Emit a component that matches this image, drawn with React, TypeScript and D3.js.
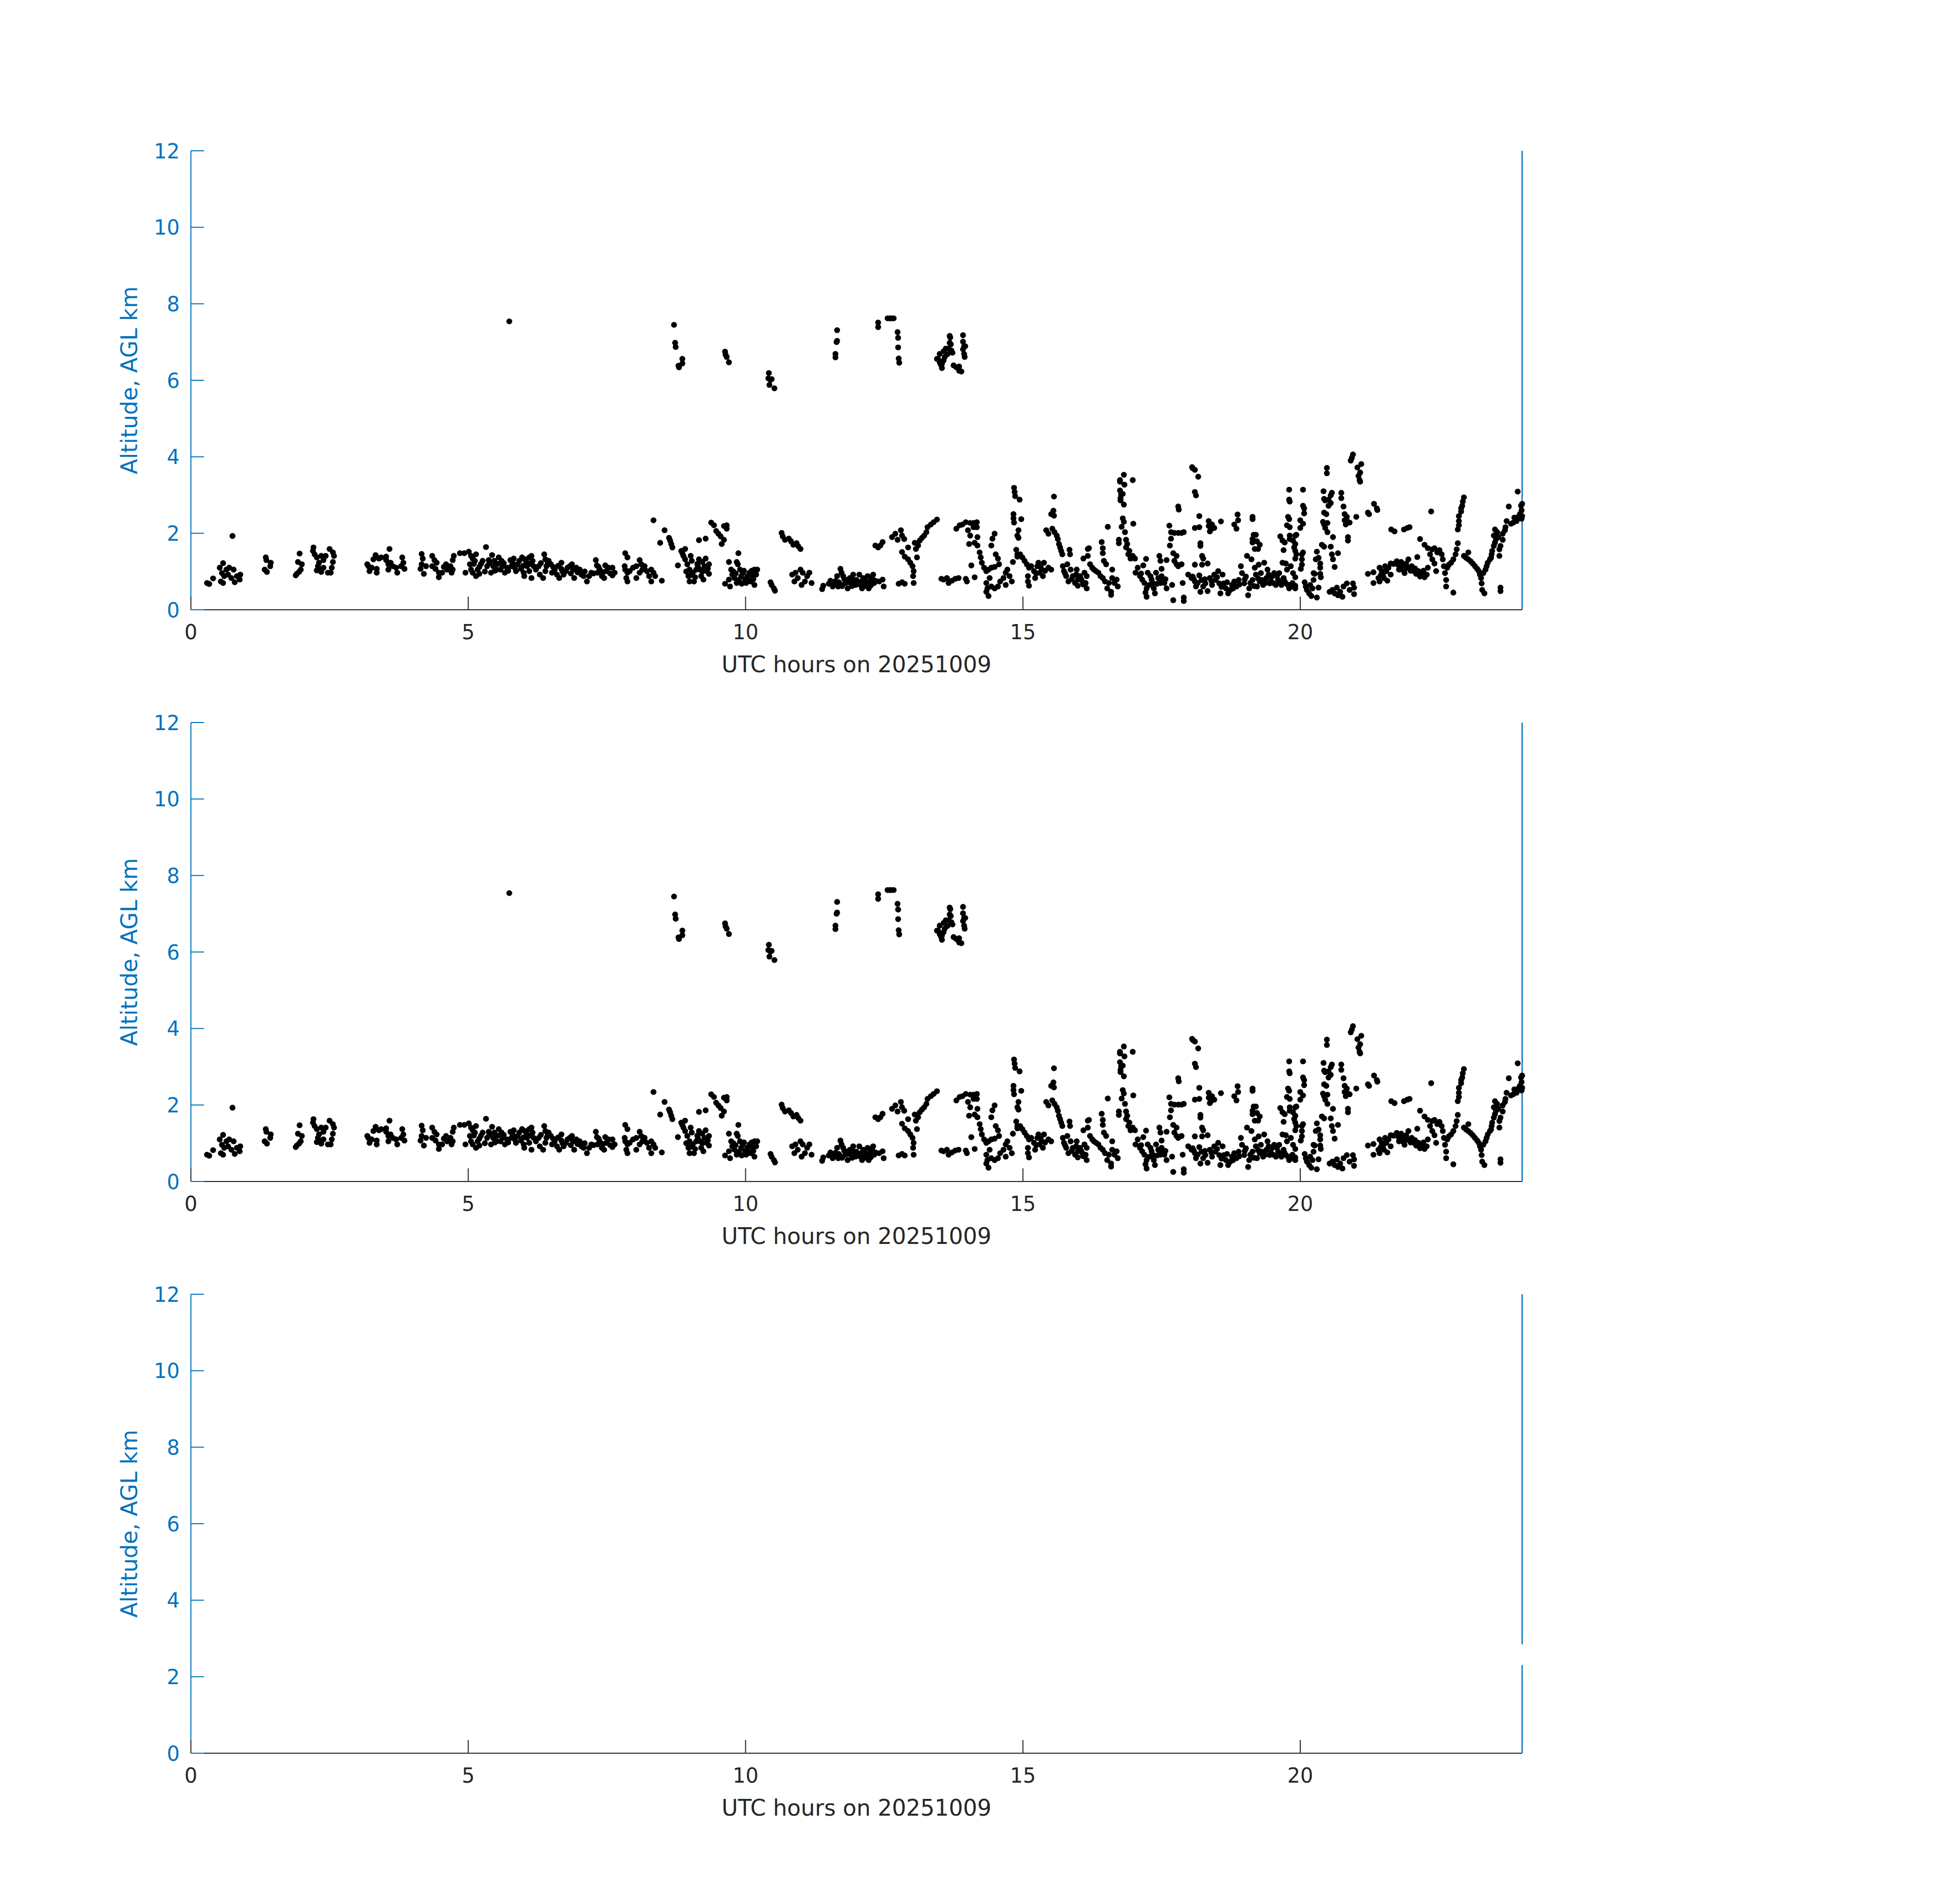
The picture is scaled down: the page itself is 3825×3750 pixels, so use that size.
import React from 'react';
import * as d3 from 'd3';

// axis ticks and labels
const yTicks = [0, 2, 4, 6, 8, 10, 12];
const xTicks = [0, 5, 10, 15, 20];
const yLabel = 'Altitude, AGL km';
const xLabel = 'UTC hours on 20251009';

// [UTC hour, altitude km AGL]
const earlyLayer: [number, number][] = [
  [0.29, 0.7], [0.33, 0.675], [0.4, 0.82], [0.52, 1.1], [0.54, 0.74], [0.56, 0.96], [0.58, 1.22], [0.58, 0.7],
  [0.6, 0.88], [0.64, 1.05], [0.67, 0.92], [0.69, 1.1], [0.73, 0.83], [0.75, 1.93], [0.77, 1.05], [0.79, 0.72],
  [0.83, 0.88], [0.88, 0.79], [0.89, 0.92],
  [1.33, 1.05], [1.35, 1.37], [1.36, 1.3], [1.37, 0.99], [1.43, 1.14], [1.44, 1.23],
  [1.89, 0.9], [1.91, 0.94], [1.93, 1.25], [1.95, 0.99], [1.96, 1.47], [1.98, 1.05], [2.0, 1.19],
  [2.2, 1.54], [2.21, 1.63], [2.23, 1.45], [2.27, 1.37], [2.27, 1.03], [2.29, 1.14], [2.31, 1.23], [2.35, 1.41],
  [2.35, 0.99], [2.35, 1.05], [2.39, 1.3], [2.39, 1.1], [2.43, 1.41], [2.47, 0.97], [2.5, 1.59], [2.52, 0.97],
  [2.54, 1.1], [2.56, 1.5], [2.56, 1.25], [2.58, 1.41],
  [3.18, 1.19], [3.2, 1.14], [3.22, 1.01], [3.26, 1.1], [3.29, 1.32], [3.33, 1.43], [3.35, 1.07], [3.35, 0.97],
  [3.39, 1.34], [3.43, 1.37], [3.52, 1.39], [3.52, 1.3], [3.56, 1.19], [3.56, 1.05], [3.58, 1.59], [3.6, 1.23],
  [3.64, 1.14], [3.7, 1.1], [3.72, 0.97], [3.79, 1.14], [3.81, 1.37], [3.83, 1.23], [3.85, 1.07],
  [4.14, 1.07], [4.16, 1.46], [4.16, 1.19], [4.18, 1.34], [4.2, 0.94], [4.24, 1.14], [4.35, 1.41], [4.35, 1.14],
  [4.39, 1.3], [4.41, 1.07], [4.43, 1.23], [4.47, 0.97], [4.47, 0.85], [4.53, 0.97], [4.56, 1.12], [4.6, 1.19],
  [4.62, 1.05], [4.68, 1.14], [4.7, 0.97], [4.72, 1.05], [4.72, 1.3], [4.74, 1.41],
  [4.85, 1.48], [4.93, 1.48], [4.95, 0.97], [5.01, 1.52], [5.03, 1.19], [5.05, 1.41], [5.05, 1.05], [5.08, 1.34],
  [5.08, 0.97], [5.1, 1.2], [5.12, 1.28], [5.14, 1.45], [5.14, 0.88], [5.17, 1.05], [5.2, 0.94], [5.2, 1.12],
  [5.23, 1.2], [5.26, 1.28], [5.3, 1.0], [5.32, 1.64], [5.34, 1.14], [5.37, 1.3], [5.38, 1.22], [5.41, 0.97],
  [5.43, 1.43], [5.45, 1.14], [5.47, 1.28], [5.48, 1.02], [5.51, 1.05], [5.53, 1.2], [5.55, 1.37], [5.58, 1.05],
  [5.6, 1.28], [5.62, 1.14], [5.64, 1.22], [5.66, 0.97], [5.7, 1.1], [5.72, 1.02], [5.76, 1.3], [5.78, 1.14],
  [5.8, 1.22], [5.82, 1.34], [5.84, 1.1], [5.86, 1.01], [5.89, 1.19], [5.92, 1.28], [5.95, 1.07], [5.97, 1.37],
  [5.99, 1.15], [6.01, 0.88],
];

const morningLayer: [number, number][] = [
  [6.0, 0.97], [6.02, 1.32], [6.05, 1.25], [6.06, 1.14], [6.1, 1.37], [6.1, 1.01], [6.12, 1.2], [6.14, 1.41],
  [6.14, 0.83], [6.16, 1.28], [6.18, 1.14], [6.22, 1.05], [6.27, 1.14], [6.29, 0.92], [6.31, 1.22], [6.35, 0.83],
  [6.37, 1.45], [6.39, 1.32], [6.39, 1.01], [6.41, 1.14], [6.43, 1.2], [6.45, 1.28], [6.49, 1.19], [6.51, 0.97],
  [6.53, 1.12], [6.56, 1.05], [6.6, 0.92], [6.62, 1.15], [6.64, 0.83], [6.68, 1.23], [6.68, 1.07], [6.7, 1.0],
  [6.72, 0.92], [6.76, 1.01], [6.79, 1.1], [6.83, 1.14], [6.85, 0.95], [6.87, 1.19], [6.89, 1.05], [6.91, 0.83],
  [6.95, 1.1], [6.97, 0.98], [7.01, 1.05], [7.04, 0.92], [7.08, 0.88], [7.1, 1.0], [7.14, 0.74], [7.18, 0.88],
  [7.22, 0.97], [7.26, 0.95], [7.3, 1.3], [7.32, 1.16], [7.33, 0.97], [7.35, 1.12], [7.37, 1.05], [7.41, 0.88],
  [7.43, 0.98], [7.45, 0.83], [7.47, 1.16], [7.49, 1.01], [7.53, 1.1], [7.56, 0.95], [7.6, 1.1], [7.6, 0.9],
  [7.64, 0.97],
  [7.82, 1.14], [7.83, 1.48], [7.83, 1.05], [7.85, 0.83], [7.87, 1.37], [7.87, 0.97], [7.87, 0.74], [7.91, 1.01],
  [7.97, 1.1], [8.03, 1.14], [8.03, 0.83], [8.09, 1.3], [8.09, 0.97], [8.12, 1.19], [8.14, 1.05], [8.18, 1.14],
  [8.22, 1.01], [8.26, 0.88], [8.3, 1.05], [8.3, 0.74], [8.34, 0.97], [8.37, 0.88], [8.49, 0.76],
  [8.34, 2.34], [8.46, 1.75], [8.54, 2.08], [8.62, 1.88], [8.64, 1.81], [8.66, 1.72], [8.68, 1.63],
  [8.78, 1.16], [8.84, 1.54], [8.86, 1.48], [8.88, 1.41], [8.91, 1.59], [8.91, 1.32], [8.93, 1.0], [8.95, 1.19],
  [8.97, 0.88], [8.99, 1.05], [8.99, 0.74], [9.0, 0.9], [9.01, 1.41], [9.03, 1.28], [9.05, 0.97], [9.07, 0.74],
  [9.09, 0.85], [9.11, 1.05], [9.13, 1.2], [9.14, 1.14], [9.16, 1.32], [9.18, 1.05], [9.2, 0.88], [9.22, 1.0],
  [9.22, 1.25], [9.24, 0.79], [9.26, 1.14], [9.28, 1.34], [9.3, 1.01], [9.32, 1.08], [9.34, 1.19], [9.34, 0.94],
  [9.16, 1.82], [9.28, 1.86], [9.38, 2.28], [9.43, 2.21], [9.47, 2.06], [9.51, 1.99], [9.55, 1.92], [9.57, 1.72],
  [9.61, 1.83], [9.61, 2.19], [9.66, 2.12], [9.66, 2.21],
  [9.63, 0.68], [9.7, 1.25], [9.7, 0.79], [9.72, 0.61], [9.74, 1.05], [9.76, 0.92], [9.78, 1.0], [9.8, 0.83],
  [9.82, 0.95], [9.84, 1.25], [9.84, 0.7], [9.86, 1.19], [9.87, 1.48], [9.88, 0.78], [9.9, 1.05], [9.92, 0.88],
  [9.93, 0.68], [9.95, 0.97], [9.97, 1.02], [9.99, 0.79], [10.01, 0.7], [10.03, 0.88], [10.05, 0.78],
  [10.07, 0.97], [10.09, 0.74], [10.11, 1.02], [10.13, 0.88], [10.14, 0.8], [10.16, 1.05], [10.16, 0.65],
  [10.19, 0.92], [10.21, 1.05],
  [10.45, 0.72], [10.47, 0.65], [10.51, 0.56], [10.53, 0.5],
  [10.65, 2.01], [10.67, 1.92], [10.71, 1.83], [10.78, 1.86], [10.82, 1.79], [10.86, 1.7], [10.92, 1.74],
  [10.95, 1.66], [10.99, 1.59],
  [10.84, 0.92], [10.88, 0.74], [10.9, 0.97], [10.94, 0.83], [10.99, 1.05], [11.01, 0.65], [11.03, 0.97],
  [11.07, 0.74], [11.11, 0.88], [11.15, 0.97], [11.19, 0.7],
  [11.38, 0.54], [11.4, 0.63], [11.5, 0.68], [11.53, 0.76], [11.57, 0.61], [11.6, 0.66], [11.62, 0.75],
  [11.65, 0.88], [11.67, 0.61], [11.68, 0.72], [11.7, 0.68], [11.71, 1.07], [11.73, 0.97], [11.74, 0.62],
  [11.76, 0.88], [11.78, 0.8], [11.8, 0.7], [11.82, 0.78], [11.84, 0.56], [11.86, 0.72], [11.88, 0.83],
  [11.9, 0.7], [11.92, 0.62], [11.94, 0.92], [11.96, 0.78], [11.98, 0.65],
];

const afternoonLayer: [number, number][] = [
  [12.0, 0.78], [12.03, 0.68], [12.05, 0.92], [12.06, 0.66], [12.09, 0.74], [12.1, 0.56], [12.12, 0.83],
  [12.13, 0.64], [12.14, 0.8], [12.16, 0.7], [12.18, 0.62], [12.2, 0.88], [12.2, 0.72], [12.22, 0.56],
  [12.24, 0.72], [12.26, 0.79], [12.26, 0.64], [12.28, 0.84], [12.3, 0.92], [12.32, 0.7], [12.34, 0.76],
  [12.41, 0.74], [12.47, 0.79], [12.49, 0.61],
  [12.34, 1.68], [12.39, 1.63], [12.43, 1.68], [12.47, 1.77],
  [12.64, 1.9], [12.7, 1.99], [12.74, 1.83], [12.8, 2.08], [12.82, 1.94], [12.86, 1.85],
  [12.76, 0.68], [12.82, 0.72], [12.87, 0.68],
  [12.82, 1.51], [12.93, 1.63], [12.87, 1.39], [12.93, 1.32], [12.97, 1.23], [13.01, 1.14], [13.03, 1.01],
  [13.02, 0.88], [13.03, 0.7],
  [13.05, 1.75], [13.07, 1.59], [13.09, 1.37], [13.11, 1.68], [13.14, 1.81], [13.18, 1.88], [13.22, 1.94],
  [13.26, 2.03], [13.28, 2.16], [13.34, 2.23], [13.39, 2.29], [13.45, 2.36],
  [13.53, 0.81], [13.57, 0.79], [13.63, 0.83], [13.66, 0.7], [13.72, 0.76], [13.78, 0.81], [13.84, 0.83],
  [13.97, 0.81], [13.99, 0.74],
  [13.8, 2.12], [13.86, 2.21], [13.91, 2.23], [13.97, 2.29], [14.05, 2.27], [14.11, 2.27], [14.17, 2.29],
  [14.01, 2.08], [14.05, 1.94], [14.11, 2.16], [14.03, 1.72], [14.13, 1.75], [14.17, 2.16], [14.18, 1.9],
  [14.18, 1.68], [14.22, 1.5], [14.24, 1.37], [14.26, 1.23], [14.3, 1.1], [14.34, 1.01], [14.38, 1.05],
  [14.43, 1.1], [14.49, 1.12], [14.07, 1.16], [14.13, 0.85],
  [14.34, 0.7], [14.36, 0.56], [14.38, 0.36], [14.34, 0.47], [14.4, 0.83], [14.43, 0.61], [14.49, 0.56],
  [14.55, 0.61], [14.59, 0.74], [14.65, 0.83], [14.69, 0.97], [14.72, 1.05], [14.76, 0.88], [14.8, 0.74],
  [14.69, 0.65],
  [14.43, 1.68], [14.45, 1.86], [14.49, 1.99], [14.51, 1.45], [14.55, 1.34], [14.57, 1.19],
  [14.84, 3.19], [14.85, 3.08], [14.86, 2.97], [14.94, 2.88],
  [14.83, 2.5], [14.83, 2.39], [14.84, 2.28], [14.97, 2.37], [14.92, 2.08], [14.9, 1.94], [14.92, 1.88],
  [14.88, 1.57], [14.9, 1.45], [14.9, 1.39], [14.82, 1.25], [14.95, 1.45], [14.99, 1.37], [15.03, 1.28],
  [15.07, 1.19], [15.11, 1.1], [15.09, 0.88], [15.09, 0.74], [15.11, 0.63], [15.15, 1.14], [15.2, 1.01],
  [15.24, 0.95], [15.26, 1.14], [15.22, 0.83], [15.3, 0.97], [15.32, 1.12], [15.34, 1.05], [15.38, 1.23],
  [15.36, 0.88], [15.28, 1.23], [15.4, 1.02], [15.46, 1.1], [15.51, 1.05],
  [15.56, 2.96], [15.55, 2.59], [15.51, 2.5], [15.56, 2.46],
  [15.42, 2.08], [15.46, 1.99], [15.53, 2.12], [15.57, 2.03], [15.61, 1.94], [15.63, 1.85], [15.65, 1.72],
  [15.67, 1.63], [15.69, 1.54], [15.71, 1.45], [15.84, 1.57], [15.85, 1.45],
  [15.72, 1.14], [15.8, 1.19], [15.74, 1.01], [15.76, 0.95], [15.78, 0.88], [15.82, 0.74], [15.86, 1.05],
  [15.88, 0.8], [15.9, 0.88], [15.94, 0.7], [15.96, 0.92], [15.97, 1.05], [15.99, 0.79], [16.03, 0.88],
  [16.05, 0.8], [16.07, 0.74], [16.09, 0.66], [16.11, 0.97], [16.13, 0.7], [16.15, 0.88], [16.15, 0.56],
  [15.99, 0.63],
  [16.09, 1.34], [16.17, 1.41], [16.17, 1.59], [16.19, 1.61],
  [16.21, 1.19], [16.25, 1.1], [16.28, 1.05], [16.32, 1.01], [16.36, 0.97], [16.4, 0.88], [16.44, 0.83],
  [16.48, 0.74], [16.52, 0.56], [16.55, 0.7], [16.59, 0.39], [16.59, 0.47], [16.61, 0.83], [16.65, 0.7],
  [16.69, 0.79], [16.71, 0.61], [16.61, 1.05],
  [16.42, 1.77], [16.44, 1.61], [16.44, 1.48], [16.46, 1.28], [16.5, 1.19], [16.53, 2.17],
  [16.82, 3.53], [16.75, 3.39], [16.75, 3.35], [16.83, 3.27], [16.98, 3.39], [16.75, 3.12], [16.77, 3.01],
  [16.8, 3.03], [16.76, 2.92], [16.76, 2.86], [16.82, 2.75],
  [16.8, 2.39], [16.82, 2.3], [16.78, 2.17], [16.84, 2.03], [16.99, 2.25], [16.73, 1.83], [16.73, 1.74],
  [16.86, 1.83], [16.88, 1.72], [16.86, 1.63], [16.92, 1.54], [16.9, 1.45], [16.98, 1.41], [16.94, 1.34],
  [17.02, 1.34],
  [17.07, 1.1], [17.03, 0.97], [17.11, 0.88], [17.13, 0.95], [17.15, 0.79], [17.19, 0.7], [17.23, 0.56],
  [17.21, 0.45], [17.23, 0.34], [17.17, 1.16], [17.25, 0.97], [17.22, 1.33], [17.28, 0.65], [17.3, 0.88],
  [17.32, 0.79], [17.34, 0.7], [17.36, 0.56], [17.38, 0.43], [17.4, 0.97], [17.42, 0.68], [17.44, 0.83],
  [17.48, 0.7], [17.5, 0.88], [17.52, 0.79], [17.55, 0.7], [17.57, 0.8], [17.59, 0.56],
  [17.46, 1.41], [17.48, 1.28], [17.5, 1.07], [17.59, 1.3], [17.69, 0.65], [17.71, 0.25], [17.9, 0.32],
  [17.9, 0.23], [17.88, 0.7],
  [17.64, 2.2], [17.67, 2.03], [17.73, 2.01], [17.8, 2.01], [17.86, 2.01], [17.9, 2.03], [17.67, 1.86],
  [17.65, 1.68], [17.71, 1.48], [17.77, 1.41], [17.73, 1.28], [17.77, 1.19], [17.8, 1.14], [17.86, 1.19],
  [17.8, 2.7], [17.81, 2.62],
  [18.05, 3.73], [17.98, 0.92], [18.04, 0.83],
];

const eveningLayer: [number, number][] = [
  [18.06, 3.7], [18.1, 3.66], [18.16, 3.48], [18.1, 3.08], [18.12, 2.99],
  [18.18, 2.45], [18.18, 2.16], [18.1, 2.14], [18.2, 1.74], [18.2, 1.67], [18.23, 1.41], [18.25, 1.34],
  [18.1, 1.18], [18.23, 1.18], [18.33, 1.21],
  [18.35, 2.32], [18.35, 2.19], [18.41, 2.23], [18.39, 2.1], [18.45, 2.14], [18.37, 2.05], [18.57, 2.31],
  [18.87, 2.49], [18.88, 2.34], [18.81, 2.23], [18.85, 2.12], [19.14, 2.43], [19.14, 2.37],
  [18.06, 0.87], [18.1, 0.74], [18.12, 0.61], [18.08, 0.81], [18.15, 0.7], [18.18, 0.9], [18.22, 0.78],
  [18.2, 0.47], [18.25, 0.61], [18.28, 0.8], [18.29, 0.69], [18.33, 0.49], [18.37, 0.83], [18.4, 0.75],
  [18.41, 0.65], [18.45, 0.92], [18.47, 0.78], [18.5, 0.85], [18.52, 1.01], [18.54, 0.69], [18.56, 0.43],
  [18.58, 0.6], [18.6, 0.92], [18.62, 0.69], [18.66, 0.56], [18.68, 0.72], [18.7, 0.43], [18.74, 0.52],
  [18.77, 0.65], [18.79, 0.56], [18.81, 0.74], [18.85, 0.61], [18.89, 0.78], [18.9, 0.66], [18.93, 1.14],
  [18.95, 0.96], [18.99, 0.69], [19.0, 0.8], [19.02, 0.87], [19.04, 1.41], [19.06, 0.38], [19.08, 0.56],
  [19.1, 0.7], [19.12, 1.32], [19.14, 0.78], [19.17, 0.62], [19.18, 1.1], [19.2, 0.92], [19.22, 0.61],
  [19.24, 0.82], [19.25, 1.18], [19.27, 0.74], [19.29, 0.96], [19.31, 0.78], [19.33, 0.65], [19.35, 1.23],
  [19.37, 0.7], [19.39, 0.83], [19.41, 1.05], [19.43, 0.92], [19.45, 0.69], [19.47, 0.75], [19.49, 0.87],
  [19.51, 0.7], [19.53, 0.96], [19.56, 0.65], [19.58, 0.88], [19.6, 0.78], [19.62, 0.96], [19.64, 0.72],
  [19.66, 0.65], [19.7, 0.83], [19.72, 0.74], [19.74, 0.69], [19.77, 0.66], [19.8, 0.56], [19.83, 0.61],
  [19.86, 0.7], [19.91, 0.56], [19.91, 0.63],
  [19.16, 1.96], [19.2, 1.96], [19.14, 1.85], [19.14, 1.76], [19.22, 1.79], [19.27, 1.7], [19.18, 1.59],
  [19.24, 1.59],
  [19.64, 1.92], [19.68, 1.81], [19.72, 1.76], [19.7, 1.56], [19.68, 1.23], [19.74, 1.21], [19.76, 1.05],
  [19.83, 1.14], [19.87, 0.96], [19.91, 0.85],
  [19.8, 3.14], [19.8, 2.88], [19.81, 2.83], [19.78, 2.43], [19.8, 2.37], [19.76, 2.21], [19.81, 2.16],
  [20.05, 3.14], [20.05, 2.72], [20.07, 2.65], [20.07, 2.52], [20.0, 2.34], [20.05, 2.25], [20.0, 2.14],
  [19.93, 1.96], [19.91, 1.94], [19.81, 1.94], [19.81, 1.85], [19.87, 1.81], [19.91, 1.72], [19.89, 1.63],
  [19.91, 1.54], [19.93, 1.45], [19.91, 1.34], [20.03, 1.45], [20.05, 1.5], [20.03, 1.32], [20.03, 1.18],
  [20.01, 1.07],
  [20.08, 0.72], [20.1, 0.61], [20.12, 0.52], [20.16, 0.43], [20.2, 0.36], [20.18, 0.65], [20.22, 0.56],
  [20.24, 0.78], [20.26, 0.94], [20.3, 0.32], [20.33, 0.58], [20.24, 0.96],
  [20.28, 1.32], [20.3, 1.52], [20.33, 1.36], [20.36, 1.21], [20.36, 1.1], [20.36, 0.94], [20.37, 0.85],
  [20.39, 1.7], [20.43, 1.65], [20.47, 2.5], [20.48, 3.71], [20.48, 3.57], [20.42, 3.1], [20.43, 2.9],
  [20.45, 2.86], [20.51, 2.88], [20.57, 3.06], [20.55, 2.99], [20.55, 2.79], [20.51, 2.72], [20.43, 2.54],
  [20.41, 2.3], [20.43, 2.23], [20.49, 2.27], [20.45, 2.14], [20.49, 2.03], [20.59, 1.9], [20.55, 1.65],
  [20.57, 1.45], [20.59, 1.32], [20.62, 1.12], [20.68, 1.48],
  [20.53, 0.47], [20.58, 0.52], [20.62, 0.43], [20.66, 0.58], [20.68, 0.38], [20.72, 0.47], [20.76, 0.34],
  [20.78, 0.61], [20.84, 0.69], [20.89, 0.52], [20.95, 0.69], [20.97, 0.41], [20.97, 0.58],
  [20.74, 3.06], [20.74, 2.92], [20.78, 2.7], [20.8, 2.5], [20.84, 2.43], [20.8, 2.34], [20.86, 2.3],
  [20.82, 2.23], [20.89, 2.28], [20.86, 1.9], [20.86, 1.81], [21.01, 2.43],
  [20.95, 4.06], [20.93, 3.97], [20.91, 3.9], [21.1, 3.81], [21.03, 3.72], [21.08, 3.59], [21.05, 3.5],
  [21.07, 3.39], [21.08, 3.35],
  [21.22, 2.54], [21.24, 2.5], [21.33, 2.77], [21.38, 2.65], [21.39, 2.61],
  [21.22, 0.94], [21.32, 0.98], [21.32, 0.7], [21.41, 0.83], [21.43, 0.74], [21.43, 1.1], [21.45, 0.9],
  [21.47, 1.01], [21.49, 0.92], [21.51, 0.83], [21.53, 1.14], [21.55, 1.01], [21.57, 0.76], [21.59, 1.1],
  [21.63, 0.92], [21.63, 1.21],
  [21.64, 2.1], [21.7, 2.05], [21.87, 2.1], [21.93, 2.14], [21.97, 2.16],
  [21.68, 1.2], [21.74, 1.27], [21.76, 1.18], [21.78, 1.05], [21.8, 1.15], [21.82, 1.25], [21.84, 1.05],
  [21.86, 1.14], [21.88, 0.96], [21.9, 1.08], [21.91, 1.21], [21.95, 1.32], [21.97, 1.1], [21.99, 1.02],
  [22.01, 1.14], [22.05, 1.01], [22.07, 1.08], [22.09, 0.94], [22.13, 1.01], [22.14, 0.95], [22.16, 0.87],
  [22.2, 0.96], [22.22, 1.02], [22.24, 0.85], [22.28, 0.92], [22.3, 1.1], [22.11, 1.38], [22.16, 1.85],
  [22.24, 1.7], [22.3, 1.61],
  [22.36, 2.57], [22.34, 1.45], [22.38, 1.58], [22.42, 1.61], [22.38, 1.32], [22.42, 1.21], [22.45, 1.01],
  [22.47, 1.5], [22.51, 1.56], [22.55, 1.45], [22.57, 1.32], [22.59, 1.14], [22.61, 0.96], [22.63, 0.78],
  [22.63, 0.61], [22.65, 1.1], [22.68, 1.18], [22.72, 1.23], [22.76, 1.32], [22.8, 1.45], [22.82, 1.58],
  [22.84, 1.74], [22.76, 0.45],
  [22.84, 2.1], [22.86, 2.21], [22.86, 2.32], [22.86, 2.45], [22.9, 2.57], [22.9, 2.65], [22.92, 2.72],
  [22.93, 2.83], [22.95, 2.94],
  [22.95, 1.41], [22.99, 1.36], [23.03, 1.32], [23.03, 1.5], [23.07, 1.27], [23.11, 1.21], [23.15, 1.14],
  [23.19, 1.07], [23.22, 1.01], [23.24, 0.92], [23.26, 0.83], [23.27, 0.69], [23.28, 0.52], [23.32, 0.43],
  [23.3, 0.96], [23.34, 1.05], [23.36, 1.14], [23.38, 1.23], [23.42, 1.32], [23.44, 1.36], [23.45, 1.45],
  [23.46, 1.54], [23.49, 1.67], [23.51, 1.76], [23.53, 1.85], [23.49, 1.94], [23.51, 2.1], [23.55, 2.03],
  [23.57, 1.9], [23.59, 1.58], [23.61, 1.67], [23.59, 1.41], [23.61, 0.58], [23.61, 0.49], [23.65, 1.83],
  [23.65, 1.99], [23.69, 2.08], [23.7, 2.16], [23.72, 2.32], [23.76, 2.7], [23.8, 2.25], [23.84, 2.28],
  [23.86, 2.41], [23.9, 2.32], [23.93, 2.43], [23.92, 3.09], [23.98, 2.72], [24.0, 2.77], [23.99, 2.6],
  [23.96, 2.5], [24.0, 2.45], [23.99, 2.38],
];

const cirrus: [number, number][] = [
  [5.74, 7.54],
  [8.71, 7.45], [8.73, 6.98], [8.74, 6.87], [8.86, 6.56], [8.86, 6.44], [8.79, 6.38], [8.8, 6.34],
  [9.63, 6.75], [9.64, 6.67], [9.66, 6.61], [9.7, 6.47],
  [10.42, 6.19], [10.41, 6.05], [10.45, 6.01], [10.47, 6.03], [10.43, 5.88], [10.52, 5.79],
  [11.65, 7.31], [11.65, 7.03], [11.64, 7.0], [11.62, 6.69], [11.62, 6.6],
  [12.39, 7.51], [12.39, 7.39], [12.56, 7.62], [12.6, 7.62], [12.63, 7.62], [12.67, 7.62],
  [12.74, 7.26], [12.75, 7.11], [12.75, 6.86], [12.76, 6.57], [12.77, 6.46],
  [13.68, 7.16], [13.69, 7.12], [13.68, 6.98], [13.7, 6.94], [13.61, 6.83], [13.57, 6.76], [13.5, 6.69],
  [13.47, 6.56], [13.5, 6.47], [13.52, 6.41], [13.54, 6.32], [13.57, 6.52], [13.59, 6.61], [13.64, 6.68],
  [13.66, 6.83], [13.71, 6.78], [13.73, 6.72], [13.75, 6.39], [13.8, 6.34], [13.85, 6.25], [13.89, 6.23],
  [13.85, 6.36], [13.45, 6.56], [13.54, 6.43],
  [13.92, 7.18], [13.92, 7.01], [13.94, 6.89], [13.96, 6.89], [13.92, 6.81], [13.94, 6.69], [13.95, 6.61],
];

const allPoints = [...earlyLayer, ...morningLayer, ...afternoonLayer, ...eveningLayer, ...cirrus];

const BLUE = '#0072BD';
const DARK = '#262626';
const W = 3825;
const H = 3750;
const LEFT = 376;
const RIGHT = 2998;
const PANEL_H = 904;
const TICK = 26;
const FONT = 'DejaVu Sans, sans-serif';

// third panel draws the same points in white (they only show where they cover the axis)
const panels = [
  { top: 297, dot: '#000000' },
  { top: 1423, dot: '#000000' },
  { top: 2549, dot: '#ffffff' },
];

function Panel({ top, dot }: { top: number; dot: string }) {
  const bottom = top + PANEL_H;
  const x = d3.scaleLinear().domain([0, 24]).range([LEFT, RIGHT]);
  const y = d3.scaleLinear().domain([0, 12]).range([bottom, top]);

  return (
    <g>
      <line x1={LEFT} x2={RIGHT} y1={bottom} y2={bottom} stroke={DARK} strokeWidth={2} />
      <line x1={LEFT} x2={LEFT} y1={top} y2={bottom} stroke={BLUE} strokeWidth={2} />
      <line x1={RIGHT} x2={RIGHT} y1={top} y2={bottom} stroke={BLUE} strokeWidth={2.5} />
      {xTicks.map((t) => (
        <g key={'x' + t}>
          <line x1={x(t)} x2={x(t)} y1={bottom} y2={bottom - TICK} stroke={DARK} strokeWidth={2} />
          <text x={x(t)} y={bottom + 58} textAnchor="middle" fontSize={40} fill={DARK} fontFamily={FONT}>
            {t}
          </text>
        </g>
      ))}
      {yTicks.map((t) => (
        <g key={'y' + t}>
          <line x1={LEFT} x2={LEFT + TICK} y1={y(t)} y2={y(t)} stroke={BLUE} strokeWidth={2} />
          <text x={354} y={y(t) + 14.5} textAnchor="end" fontSize={40} fill={BLUE} fontFamily={FONT}>
            {t}
          </text>
        </g>
      ))}
      <text x={(LEFT + RIGHT) / 2} y={bottom + 123} textAnchor="middle" fontSize={44} fill={DARK} fontFamily={FONT}>
        {xLabel}
      </text>
      <text
        transform={`translate(270, ${(top + bottom) / 2}) rotate(-90)`}
        textAnchor="middle"
        fontSize={44}
        fill={BLUE}
        fontFamily={FONT}
      >
        {yLabel}
      </text>
      {allPoints.map(([h, km], i) => (
        <circle key={i} cx={x(h)} cy={y(km)} r={5.8} fill={dot} />
      ))}
    </g>
  );
}

export default function App() {
  return (
    <div style={{ position: 'absolute', left: 0, top: 0 }}>
      <svg width={W} height={H} viewBox={`0 0 ${W} ${H}`} style={{ display: 'block', background: '#fff' }}>
        <rect width={W} height={H} fill="#fff" />
        {panels.map((p, i) => (
          <Panel key={i} top={p.top} dot={p.dot} />
        ))}
      </svg>
    </div>
  );
}
